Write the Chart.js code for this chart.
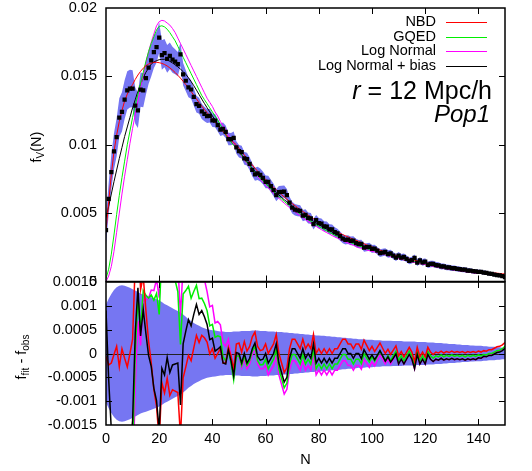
<!DOCTYPE html>
<html>
<head>
<meta charset="utf-8">
<script src="https://cdn.jsdelivr.net/npm/chart.js@4.4.1/dist/chart.umd.min.js"></script>
<style>
  body { margin: 0; background: #fff; }
  #wrap { position: relative; width: 532px; height: 471px; background: #fff; }
  #wrap canvas { position: absolute; left: 0; top: 0; }
</style>
</head>
<body>
<div id="wrap">
  <canvas id="topChart" width="532" height="471"></canvas>
  <canvas id="botChart" width="532" height="471"></canvas>
</div>
<script>
// observed f_V(N), N = 0..150
const obs = [
  0.00376, 0.00604, 0.00800, 0.00952, 0.01055, 0.01198, 0.01240, 0.01330, 0.01398, 0.01410,
  0.01410, 0.01286, 0.01252, 0.01403, 0.01398, 0.01488, 0.01564, 0.01617, 0.01678, 0.01714,
  0.01783, 0.01656, 0.01670, 0.01628, 0.01650, 0.01622, 0.01607, 0.01590, 0.01661, 0.01515,
  0.01468, 0.01419, 0.01404, 0.01350, 0.01297, 0.01285, 0.01244, 0.01225, 0.01210, 0.01212,
  0.01179, 0.01176, 0.01143, 0.01110, 0.01117, 0.01095, 0.01042, 0.01041, 0.01050, 0.00980,
  0.00953, 0.00946, 0.00900, 0.00895, 0.00861, 0.00817, 0.00784, 0.00791, 0.00779, 0.00758,
  0.00728, 0.00728, 0.00698, 0.00669, 0.00631, 0.00653, 0.00655, 0.00658, 0.00632, 0.00576,
  0.00540, 0.00525, 0.00520, 0.00516, 0.00482, 0.00488, 0.00465, 0.00462, 0.00420, 0.00448,
  0.00426, 0.00424, 0.00403, 0.00402, 0.00382, 0.00381, 0.00361, 0.00352, 0.00332, 0.00313,
  0.00304, 0.00306, 0.00297, 0.00299, 0.00281, 0.00273, 0.00276, 0.00248, 0.00251, 0.00254,
  0.00238, 0.00241, 0.00225, 0.00208, 0.00212, 0.00217, 0.00201, 0.00205, 0.00190, 0.00175,
  0.00190, 0.00175, 0.00180, 0.00165, 0.00151, 0.00156, 0.00172, 0.00138, 0.00154, 0.00140,
  0.00146, 0.00122, 0.00128, 0.00129, 0.00120, 0.00118, 0.00110, 0.00111, 0.00104, 0.00103,
  0.00097, 0.00097, 0.00092, 0.00091, 0.00086, 0.00086, 0.00080, 0.00079, 0.00075, 0.00074,
  0.00070, 0.00070, 0.00065, 0.00063, 0.00058, 0.00056, 0.00051, 0.00047, 0.00044, 0.00039,
  0.00032
];

// error on f_V(N)
const sigma = [
  0.00103, 0.00115, 0.00125, 0.00133, 0.00139, 0.00142, 0.00143, 0.00142, 0.00140, 0.00138,
  0.00135, 0.00132, 0.00129, 0.00126, 0.00124, 0.00122, 0.00120, 0.00118, 0.00116, 0.00114,
  0.00111, 0.00108, 0.00104, 0.00101, 0.00098, 0.00095, 0.00092, 0.00089, 0.00086, 0.00082,
  0.00077, 0.00072, 0.00068, 0.00064, 0.00061, 0.00058, 0.00055, 0.00053, 0.00051, 0.00050,
  0.00049, 0.00048, 0.00047, 0.00046, 0.00046, 0.00045, 0.00045, 0.00045, 0.00046, 0.00046,
  0.00046, 0.00047, 0.00047, 0.00047, 0.00047, 0.00048, 0.00048, 0.00048, 0.00047, 0.00047,
  0.00047, 0.00046, 0.00046, 0.00046, 0.00045, 0.00045, 0.00045, 0.00044, 0.00044, 0.00043,
  0.00043, 0.00042, 0.00042, 0.00041, 0.00041, 0.00040, 0.00040, 0.00039, 0.00039, 0.00038,
  0.00038, 0.00037, 0.00037, 0.00036, 0.00036, 0.00035, 0.00035, 0.00034, 0.00034, 0.00033,
  0.00033, 0.00032, 0.00032, 0.00031, 0.00031, 0.00030, 0.00030, 0.00030, 0.00029, 0.00029,
  0.00029, 0.00028, 0.00028, 0.00028, 0.00027, 0.00027, 0.00027, 0.00027, 0.00026, 0.00026,
  0.00026, 0.00026, 0.00025, 0.00025, 0.00025, 0.00025, 0.00025, 0.00024, 0.00024, 0.00024,
  0.00024, 0.00023, 0.00023, 0.00023, 0.00022, 0.00022, 0.00022, 0.00021, 0.00021, 0.00020,
  0.00020, 0.00020, 0.00019, 0.00019, 0.00018, 0.00018, 0.00018, 0.00017, 0.00017, 0.00016,
  0.00016, 0.00016, 0.00015, 0.00015, 0.00014, 0.00014, 0.00014, 0.00013, 0.00013, 0.00012,
  0.00012
];

// model fits
const nbd = [
  0.00370, 0.00580, 0.00780, 0.00950, 0.01070, 0.01170, 0.01250, 0.01320, 0.01370, 0.01410,
  0.01440, 0.01478, 0.01510, 0.01537, 0.01560, 0.01578, 0.01590, 0.01598, 0.01602, 0.01603,
  0.01600, 0.01595, 0.01587, 0.01576, 0.01562, 0.01546, 0.01528, 0.01508, 0.01487, 0.01464,
  0.01440, 0.01415, 0.01389, 0.01362, 0.01335, 0.01308, 0.01282, 0.01258, 0.01234, 0.01211,
  0.01189, 0.01166, 0.01143, 0.01120, 0.01097, 0.01075, 0.01055, 0.01036, 0.01017, 0.01000,
  0.00975, 0.00949, 0.00925, 0.00900, 0.00876, 0.00852, 0.00829, 0.00806, 0.00785, 0.00766,
  0.00748, 0.00728, 0.00708, 0.00689, 0.00671, 0.00653, 0.00635, 0.00618, 0.00602, 0.00586,
  0.00570, 0.00555, 0.00540, 0.00526, 0.00512, 0.00498, 0.00485, 0.00472, 0.00460, 0.00448,
  0.00436, 0.00424, 0.00413, 0.00402, 0.00392, 0.00381, 0.00371, 0.00362, 0.00352, 0.00343,
  0.00334, 0.00326, 0.00317, 0.00309, 0.00301, 0.00293, 0.00285, 0.00276, 0.00268, 0.00260,
  0.00253, 0.00245, 0.00238, 0.00230, 0.00223, 0.00217, 0.00210, 0.00203, 0.00197, 0.00191,
  0.00185, 0.00179, 0.00173, 0.00168, 0.00164, 0.00159, 0.00155, 0.00151, 0.00147, 0.00143,
  0.00139, 0.00135, 0.00131, 0.00127, 0.00123, 0.00119, 0.00115, 0.00112, 0.00108, 0.00105,
  0.00102, 0.00099, 0.00096, 0.00093, 0.00090, 0.00087, 0.00084, 0.00081, 0.00079, 0.00076,
  0.00075, 0.00073, 0.00071, 0.00068, 0.00066, 0.00064, 0.00062, 0.00061, 0.00059, 0.00057,
  0.00055
];

const gqed = [
  0.00020, 0.00090, 0.00200, 0.00340, 0.00490, 0.00630, 0.00760, 0.00880, 0.01000, 0.01100,
  0.01200, 0.01290, 0.01370, 0.01450, 0.01530, 0.01610, 0.01680, 0.01740, 0.01790, 0.01840,
  0.01865, 0.01870, 0.01862, 0.01845, 0.01820, 0.01790, 0.01760, 0.01720, 0.01680, 0.01640,
  0.01600, 0.01560, 0.01520, 0.01480, 0.01440, 0.01400, 0.01360, 0.01330, 0.01300, 0.01270,
  0.01240, 0.01210, 0.01180, 0.01145, 0.01110, 0.01080, 0.01047, 0.01021, 0.00995, 0.00975,
  0.00948, 0.00921, 0.00895, 0.00870, 0.00846, 0.00822, 0.00799, 0.00776, 0.00755, 0.00735,
  0.00716, 0.00696, 0.00676, 0.00657, 0.00639, 0.00621, 0.00603, 0.00586, 0.00570, 0.00554,
  0.00538, 0.00523, 0.00508, 0.00494, 0.00480, 0.00466, 0.00453, 0.00440, 0.00428, 0.00416,
  0.00404, 0.00392, 0.00381, 0.00370, 0.00360, 0.00349, 0.00339, 0.00330, 0.00320, 0.00311,
  0.00302, 0.00294, 0.00285, 0.00277, 0.00269, 0.00261, 0.00255, 0.00248, 0.00242, 0.00236,
  0.00231, 0.00225, 0.00220, 0.00213, 0.00207, 0.00202, 0.00196, 0.00190, 0.00185, 0.00180,
  0.00175, 0.00170, 0.00165, 0.00160, 0.00156, 0.00151, 0.00147, 0.00143, 0.00139, 0.00135,
  0.00131, 0.00127, 0.00123, 0.00119, 0.00115, 0.00111, 0.00107, 0.00104, 0.00100, 0.00097,
  0.00094, 0.00091, 0.00088, 0.00085, 0.00082, 0.00079, 0.00076, 0.00073, 0.00071, 0.00068,
  0.00067, 0.00065, 0.00063, 0.00060, 0.00058, 0.00056, 0.00054, 0.00053, 0.00051, 0.00049,
  0.00047
];

const logNormal = [
  0.00000, 0.00040, 0.00110, 0.00220, 0.00360, 0.00500, 0.00640, 0.00770, 0.00890, 0.01010,
  0.01120, 0.01220, 0.01320, 0.01420, 0.01510, 0.01600, 0.01680, 0.01750, 0.01810, 0.01870,
  0.01900, 0.01910, 0.01905, 0.01890, 0.01875, 0.01850, 0.01820, 0.01780, 0.01740, 0.01700,
  0.01660, 0.01620, 0.01580, 0.01540, 0.01500, 0.01460, 0.01420, 0.01380, 0.01340, 0.01310,
  0.01280, 0.01240, 0.01210, 0.01170, 0.01140, 0.01110, 0.01072, 0.01036, 0.01005, 0.00978,
  0.00946, 0.00916, 0.00888, 0.00863, 0.00839, 0.00815, 0.00792, 0.00769, 0.00747, 0.00726,
  0.00703, 0.00683, 0.00663, 0.00644, 0.00626, 0.00608, 0.00590, 0.00573, 0.00557, 0.00541,
  0.00525, 0.00510, 0.00495, 0.00481, 0.00467, 0.00453, 0.00440, 0.00427, 0.00415, 0.00403,
  0.00391, 0.00379, 0.00368, 0.00357, 0.00347, 0.00336, 0.00326, 0.00317, 0.00307, 0.00298,
  0.00289, 0.00281, 0.00272, 0.00264, 0.00256, 0.00248, 0.00243, 0.00236, 0.00231, 0.00225,
  0.00221, 0.00215, 0.00211, 0.00205, 0.00200, 0.00195, 0.00189, 0.00183, 0.00178, 0.00173,
  0.00168, 0.00163, 0.00158, 0.00153, 0.00149, 0.00144, 0.00140, 0.00136, 0.00132, 0.00128,
  0.00124, 0.00120, 0.00116, 0.00112, 0.00108, 0.00104, 0.00100, 0.00097, 0.00093, 0.00090,
  0.00087, 0.00084, 0.00081, 0.00078, 0.00075, 0.00072, 0.00069, 0.00066, 0.00064, 0.00061,
  0.00061, 0.00060, 0.00058, 0.00057, 0.00055, 0.00054, 0.00052, 0.00051, 0.00049, 0.00047,
  0.00045
];

const logNormalBias = [
  0.00466, 0.00550, 0.00640, 0.00730, 0.00815, 0.00900, 0.00980, 0.01060, 0.01130, 0.01200,
  0.01270, 0.01330, 0.01390, 0.01440, 0.01490, 0.01530, 0.01560, 0.01590, 0.01605, 0.01615,
  0.01622, 0.01625, 0.01625, 0.01620, 0.01610, 0.01598, 0.01585, 0.01570, 0.01553, 0.01535,
  0.01515, 0.01490, 0.01462, 0.01432, 0.01400, 0.01367, 0.01334, 0.01302, 0.01271, 0.01241,
  0.01211, 0.01181, 0.01152, 0.01124, 0.01097, 0.01073, 0.01049, 0.01026, 0.01003, 0.00982,
  0.00953, 0.00926, 0.00900, 0.00875, 0.00851, 0.00827, 0.00806, 0.00785, 0.00765, 0.00746,
  0.00728, 0.00708, 0.00688, 0.00669, 0.00651, 0.00633, 0.00615, 0.00598, 0.00582, 0.00566,
  0.00550, 0.00535, 0.00520, 0.00506, 0.00492, 0.00478, 0.00465, 0.00452, 0.00440, 0.00428,
  0.00416, 0.00404, 0.00393, 0.00382, 0.00372, 0.00361, 0.00351, 0.00342, 0.00332, 0.00323,
  0.00314, 0.00306, 0.00297, 0.00289, 0.00281, 0.00273, 0.00265, 0.00256, 0.00249, 0.00242,
  0.00235, 0.00228, 0.00221, 0.00214, 0.00207, 0.00201, 0.00194, 0.00187, 0.00180, 0.00174,
  0.00168, 0.00163, 0.00158, 0.00153, 0.00149, 0.00144, 0.00140, 0.00136, 0.00132, 0.00128,
  0.00124, 0.00120, 0.00116, 0.00112, 0.00108, 0.00104, 0.00100, 0.00097, 0.00093, 0.00090,
  0.00087, 0.00084, 0.00081, 0.00078, 0.00075, 0.00072, 0.00069, 0.00066, 0.00064, 0.00061,
  0.00061, 0.00060, 0.00059, 0.00056, 0.00054, 0.00052, 0.00050, 0.00049, 0.00047, 0.00045,
  0.00043
];

const xTicks = [0, 20, 40, 60, 80, 100, 120, 140];
const topYTicks = [0, 0.005, 0.01, 0.015, 0.02];
const botYTicks = [-0.0015, -0.001, -0.0005, 0, 0.0005, 0.001, 0.0015];

const FONT = '"Liberation Sans", Arial, Helvetica, sans-serif';
const BAND = 'rgb(118,118,242)';
const RED = '#ff0000', GREEN = '#00ee00', MAGENTA = '#ff00ff', BLACK = '#000000';

const pts = arr => arr.map((v, i) => ({ x: i, y: v }));
const resid = model => model.map((v, i) => ({ x: i, y: v - obs[i] }));

// frame and inward tick marks on all four sides
const framePlugin = {
  id: 'frame',
  afterDraw(chart, args, opts) {
    const { ctx, chartArea: a, scales } = chart;
    ctx.save();
    ctx.strokeStyle = '#000';
    ctx.lineWidth = 1;
    ctx.beginPath();
    xTicks.forEach(v => {
      const px = Math.round(scales.x.getPixelForValue(v)) + 0.5;
      if (px < a.left + 2 || px > a.right - 2) return;
      ctx.moveTo(px, a.top); ctx.lineTo(px, a.top + 6);
      ctx.moveTo(px, a.bottom); ctx.lineTo(px, a.bottom - 6);
    });
    opts.yTicks.forEach(v => {
      const py = Math.round(scales.y.getPixelForValue(v)) + 0.5;
      if (py < a.top + 2 || py > a.bottom - 2) return;
      ctx.moveTo(a.left, py); ctx.lineTo(a.left + 6, py);
      ctx.moveTo(a.right, py); ctx.lineTo(a.right - 6, py);
    });
    ctx.stroke();
    ctx.lineWidth = 1.5;
    ctx.strokeRect(a.left, a.top, a.right - a.left, a.bottom - a.top);
    ctx.restore();
  }
};

// rotated axis title with subscripts
function drawRotated(ctx, parts, cx, cy, size) {
  ctx.save();
  ctx.translate(cx, cy);
  ctx.rotate(-Math.PI / 2);
  ctx.fillStyle = '#000';
  ctx.textBaseline = 'middle';
  ctx.textAlign = 'left';
  const subSize = Math.round(size * 0.7);
  let total = 0;
  const widths = parts.map(p => {
    ctx.font = (p.sub ? subSize : size) + 'px ' + FONT;
    const w = ctx.measureText(p.t).width;
    total += w;
    return w;
  });
  let x = -total / 2;
  parts.forEach((p, i) => {
    ctx.font = (p.sub ? subSize : size) + 'px ' + FONT;
    ctx.fillText(p.t, x, p.sub ? 4 : 0);
    x += widths[i];
  });
  ctx.restore();
}

const topTextPlugin = {
  id: 'topText',
  afterDraw(chart) {
    const ctx = chart.ctx;
    drawRotated(ctx, [{ t: 'f' }, { t: 'V', sub: true }, { t: '(N)' }], 37, 147, 14.5);

    // legend
    const names = ['NBD', 'GQED', 'Log Normal', 'Log Normal + bias'];
    const cols = [RED, GREEN, MAGENTA, BLACK];
    ctx.save();
    ctx.font = '14.5px ' + FONT;
    ctx.textAlign = 'right';
    ctx.textBaseline = 'middle';
    names.forEach((n, i) => {
      const y = 22 + i * 14.7;
      ctx.fillStyle = '#000';
      ctx.fillText(n, 436, y);
      ctx.strokeStyle = cols[i];
      ctx.lineWidth = 1;
      ctx.beginPath();
      ctx.moveTo(446, Math.round(y) + 0.5);
      ctx.lineTo(487, Math.round(y) + 0.5);
      ctx.stroke();
    });

    // annotation
    ctx.fillStyle = '#000';
    ctx.font = '25px ' + FONT;
    const rest = ' = 12 Mpc/h';
    ctx.fillText(rest, 492, 92);
    const w = ctx.measureText(rest).width;
    ctx.font = 'italic 25px ' + FONT;
    ctx.fillText('r', 492 - w, 92);
    ctx.font = 'italic 24px ' + FONT;
    ctx.fillText('Pop1', 490, 115);
    ctx.restore();
  }
};

const botTextPlugin = {
  id: 'botText',
  afterDatasetDraw(chart, args) {
    // zero line on top of the error band
    if (args.index !== 0) return;
    const { ctx, chartArea: a, scales } = chart;
    const py = Math.round(scales.y.getPixelForValue(0)) + 0.5;
    ctx.save();
    ctx.strokeStyle = '#222';
    ctx.lineWidth = 1;
    ctx.beginPath();
    ctx.moveTo(a.left, py);
    ctx.lineTo(a.right, py);
    ctx.stroke();
    ctx.restore();
  },
  afterDraw(chart) {
    const ctx = chart.ctx;
    drawRotated(ctx, [{ t: 'f' }, { t: 'fit', sub: true }, { t: ' - f' }, { t: 'obs', sub: true }], 22, 357, 14.5);
    ctx.save();
    ctx.fillStyle = '#000';
    ctx.font = '14.5px ' + FONT;
    ctx.textAlign = 'center';
    ctx.textBaseline = 'middle';
    ctx.fillText('N', 305.5, 460);
    ctx.restore();
  }
};

const tickFont = { family: FONT, size: 14.5, lineHeight: 1 };
const numLabel = v => String(+Number(v).toFixed(4));

function lineSet(label, data, color, width, order) {
  return {
    label, data, borderColor: color, borderWidth: width,
    pointRadius: 0, fill: false, tension: 0, order
  };
}

new Chart(document.getElementById('topChart'), {
  type: 'line',
  data: {
    datasets: [
      { data: pts(obs.map((v, i) => v + sigma[i])), borderWidth: 0, pointRadius: 0,
        backgroundColor: BAND, fill: '+1', order: 10 },
      { data: pts(obs.map((v, i) => v - sigma[i])), borderWidth: 0, pointRadius: 0,
        fill: false, order: 10 },
      lineSet('NBD', pts(nbd), RED, 1, 5),
      lineSet('GQED', pts(gqed), GREEN, 1, 5),
      lineSet('Log Normal', pts(logNormal), MAGENTA, 1, 5),
      lineSet('Log Normal + bias', pts(logNormalBias), BLACK, 1, 5),
      { label: 'obs', data: pts(obs), showLine: false, pointStyle: 'rect', pointRadius: 3,
        pointBorderWidth: 0, backgroundColor: '#000', borderColor: '#000', order: 1 }
    ]
  },
  options: {
    responsive: false,
    animation: false,
    events: [],
    layout: { padding: { left: 0, right: 27, top: 8, bottom: 189.5 } },
    scales: {
      x: { type: 'linear', min: 0, max: 150, display: false },
      y: {
        type: 'linear', min: 0, max: 0.02,
        afterBuildTicks: s => { s.ticks = topYTicks.map(v => ({ value: v })); },
        afterFit: s => { s.width = 106; s.paddingTop = 0; s.paddingBottom = 0; },
        grid: { display: false, drawTicks: false },
        border: { display: false },
        ticks: { padding: 9, color: '#000', font: tickFont, callback: numLabel }
      }
    },
    plugins: {
      legend: { display: false },
      tooltip: { enabled: false },
      frame: { yTicks: topYTicks }
    }
  },
  plugins: [framePlugin, topTextPlugin]
});

new Chart(document.getElementById('botChart'), {
  type: 'line',
  data: {
    datasets: [
      { data: pts(sigma), borderWidth: 0, pointRadius: 0, backgroundColor: BAND, fill: '+1', order: 10 },
      { data: pts(sigma.map(v => -v)), borderWidth: 0, pointRadius: 0, fill: false, order: 10 },
      lineSet('Log Normal + bias', resid(logNormalBias), BLACK, 1.5, 5),
      lineSet('NBD', resid(nbd), RED, 1.5, 5),
      lineSet('GQED', resid(gqed), GREEN, 1.5, 5),
      lineSet('Log Normal', resid(logNormal), MAGENTA, 1.5, 5)
    ]
  },
  options: {
    responsive: false,
    animation: false,
    events: [],
    layout: { padding: { left: 0, right: 27, top: 282, bottom: 0 } },
    scales: {
      x: {
        type: 'linear', min: 0, max: 150,
        afterBuildTicks: s => { s.ticks = xTicks.map(v => ({ value: v })); },
        afterFit: s => { s.height = 46; },
        grid: { display: false, drawTicks: false },
        border: { display: false },
        ticks: { padding: 7, color: '#000', font: tickFont, maxRotation: 0, callback: v => String(v) }
      },
      y: {
        type: 'linear', min: -0.0015, max: 0.0015,
        afterBuildTicks: s => { s.ticks = botYTicks.map(v => ({ value: v })); },
        afterFit: s => { s.width = 106; },
        grid: { display: false, drawTicks: false },
        border: { display: false },
        ticks: { padding: 9, color: '#000', font: tickFont, callback: numLabel }
      }
    },
    plugins: {
      legend: { display: false },
      tooltip: { enabled: false },
      frame: { yTicks: botYTicks }
    }
  },
  plugins: [framePlugin, botTextPlugin]
});
</script>
</body>
</html>
